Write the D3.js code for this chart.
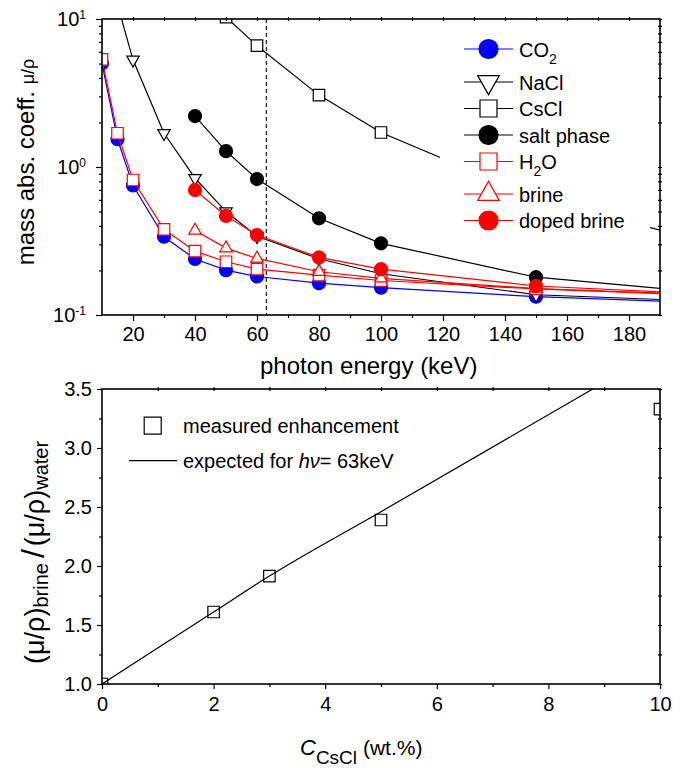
<!DOCTYPE html>
<html>
<head>
<meta charset="utf-8">
<script src="https://cdn.jsdelivr.net/npm/d3@7"></script>
<style>
  body { margin: 0; background: #fff; }
  svg { display: block; }
  text { font-family: "Liberation Sans", Arial, Helvetica, sans-serif; fill: #000; }
</style>
</head>
<body>
<svg id="chart" width="686" height="768"></svg>
<script>
// ---------------- data: mass absorption coefficients (cm^2/g) vs photon energy (keV) ----------------
const energyCO2   = [10, 15, 20, 30, 40, 50, 60, 80, 100, 150, 200];
const muCO2       = [5.0, 1.54, 0.75, 0.338, 0.239, 0.201, 0.182, 0.164, 0.153, 0.133, 0.122];
const energyNaCl  = [15, 20, 30, 40, 50, 60, 80, 100, 150, 200];
const muNaCl      = [12.5, 5.3, 1.69, 0.84, 0.50, 0.34, 0.24, 0.19, 0.137, 0.125];
const energyCsCl  = [40, 50, 60, 80, 100, 150, 200];
const muCsCl      = [20, 10.3, 6.6, 3.06, 1.71, 0.62, 0.33];
const energySalt  = [40, 50, 60, 80, 100, 150, 200];
const muSalt      = [2.21, 1.28, 0.83, 0.45, 0.305, 0.18, 0.145];
const energyH2O   = [10, 15, 20, 30, 40, 50, 60, 80, 100, 150, 200];
const muH2O       = [5.33, 1.69, 0.817, 0.379, 0.27, 0.229, 0.204, 0.186, 0.171, 0.150, 0.137];
const energyBrine = [40, 50, 60, 80, 100, 150, 200];
const muBrine     = [0.372, 0.283, 0.241, 0.196, 0.177, 0.151, 0.138];
const energyDoped = [40, 50, 60, 80, 100, 150, 200];
const muDoped     = [0.70, 0.467, 0.347, 0.245, 0.204, 0.157, 0.140];
const markerEnergy = 63;

const energyTicks = [20, 40, 60, 80, 100, 120, 140, 160, 180];
const energyMinor = [30, 50, 70, 90, 110, 130, 150, 170];
const muTicks = [0.1, 1, 10];

// ---------------- data: enhancement vs CsCl concentration ----------------
const concCsCl    = [0, 2, 3, 5, 10];
const enhancement = [1.0, 1.61, 1.915, 2.39, 3.33];
const expectedConc = [0, 2, 3, 5, 10];
const expectedEnh  = [1.0, 1.61, 1.915, 2.46, 3.83];
const concTicks = [0, 2, 4, 6, 8, 10];
const concMinor = [1, 3, 5, 7, 9];
const enhTicks  = [1.0, 1.5, 2.0, 2.5, 3.0, 3.5];
const enhMinor  = [1.25, 1.75, 2.25, 2.75, 3.25];

const BLUE = "#0000ff", RED = "#ff0000", BLACK = "#000000";

const series = [
  { label: "CO{2}",       x: energyCO2,   y: muCO2,   color: BLUE,  shape: "circle", filled: true },
  { label: "NaCl",        x: energyNaCl,  y: muNaCl,  color: BLACK, shape: "down",   filled: false },
  { label: "CsCl",        x: energyCsCl,  y: muCsCl,  color: BLACK, shape: "square", filled: false },
  { label: "salt phase",  x: energySalt,  y: muSalt,  color: BLACK, shape: "circle", filled: true },
  { label: "H{2}O",       x: energyH2O,   y: muH2O,   color: RED,   shape: "square", filled: false },
  { label: "brine",       x: energyBrine, y: muBrine, color: RED,   shape: "up",     filled: false },
  { label: "doped brine", x: energyDoped, y: muDoped, color: RED,   shape: "circle", filled: true }
];

// ---------------- helpers ----------------
function symbolPath(shape, size) {
  if (shape === "circle") return d3.symbol(d3.symbolCircle, Math.PI * (size / 2) * (size / 2))();
  if (shape === "square") return d3.symbol(d3.symbolSquare, size * size)();
  // triangles centred on their centroid
  const w = size * 1.08, h = size * 0.95;
  if (shape === "up")   return `M0,${-2 * h / 3}L${w / 2},${h / 3}L${-w / 2},${h / 3}Z`;
  return `M0,${2 * h / 3}L${w / 2},${-h / 3}L${-w / 2},${-h / 3}Z`;
}
// writes "A{b}C" as text with b as a subscript
function richLabel(sel, str, subSize, shift) {
  const parts = str.split(/(\{[^}]*\})/).filter(p => p.length);
  let lowered = false;
  parts.forEach(p => {
    if (p.startsWith("{")) {
      sel.append("tspan").attr("font-size", subSize).attr("dy", shift).text(p.slice(1, -1));
      lowered = true;
    } else {
      const t = sel.append("tspan").text(p);
      if (lowered) { t.attr("dy", -shift); lowered = false; }
    }
  });
}

const svg = d3.select("#chart");
const defs = svg.append("defs");

// ================= upper panel =================
const P1 = { l: 102, r: 660, t: 19, b: 315 };
const x1 = d3.scaleLinear().domain([10, 190]).range([P1.l, P1.r]);
const y1 = d3.scaleLog().domain([0.1, 10]).range([P1.b, P1.t]);

defs.append("clipPath").attr("id", "clip1").append("rect")
  .attr("x", P1.l).attr("y", P1.t).attr("width", P1.r - P1.l).attr("height", P1.b - P1.t);

const plot1 = svg.append("g").attr("clip-path", "url(#clip1)");

plot1.append("line")
  .attr("x1", x1(markerEnergy)).attr("x2", x1(markerEnergy))
  .attr("y1", y1(10)).attr("y2", y1(0.1))
  .attr("stroke", BLACK).attr("stroke-width", 1.1).attr("stroke-dasharray", "4,3");

const line1 = d3.line().x(d => x1(d[0])).y(d => y1(d[1]));
series.forEach(s => {
  const pts = s.x.map((e, i) => [e, s.y[i]]);
  const g = plot1.append("g");
  g.append("path").datum(pts).attr("d", line1)
    .attr("fill", "none").attr("stroke", s.color).attr("stroke-width", 1.2);
  g.selectAll("path.mk").data(pts).join("path").attr("class", "mk")
    .attr("transform", d => `translate(${x1(d[0])},${y1(d[1])})`)
    .attr("d", symbolPath(s.shape, s.shape === "circle" ? 13 : 11.5))
    .attr("fill", s.filled ? s.color : "#fff")
    .attr("stroke", s.color).attr("stroke-width", 1.2);
});

// legend (white box hides the curves behind it)
const leg1 = svg.append("g");
leg1.append("rect").attr("x", 440).attr("y", 27).attr("width", 210).attr("height", 210).attr("fill", "#fff");
const rowY = [49, 82, 108.5, 135, 161.5, 194, 220.5];
series.forEach((s, i) => {
  const g = leg1.append("g").attr("transform", `translate(0,${rowY[i]})`);
  g.append("line").attr("x1", 464).attr("x2", 513).attr("y1", 0).attr("y2", 0)
    .attr("stroke", s.color).attr("stroke-width", 1.2);
  g.append("path").attr("transform", "translate(488.5,0)")
    .attr("d", symbolPath(s.shape, s.shape === "circle" ? 19 : (s.shape === "square" ? 17 : 20)))
    .attr("fill", s.filled ? s.color : "#fff").attr("stroke", s.color).attr("stroke-width", 1.2);
  const t = g.append("text").attr("x", 519).attr("y", 7.5).attr("font-size", 20);
  richLabel(t, s.label, 14, 7);
});

// axes
function styleAxis(g) {
  g.select(".domain").remove();
  g.selectAll(".tick line").attr("stroke", BLACK).attr("stroke-width", 1.2);
}
const ax1b = svg.append("g").attr("transform", `translate(0,${P1.b})`)
  .call(d3.axisBottom(x1).tickValues(energyTicks).tickSize(6).tickPadding(6).tickFormat(d3.format("d")));
ax1b.selectAll("text").attr("font-size", 20).attr("font-family", null);
styleAxis(ax1b);
styleAxis(svg.append("g").attr("transform", `translate(0,${P1.b})`)
  .call(d3.axisBottom(x1).tickValues(energyMinor).tickSize(3).tickFormat("")));
styleAxis(svg.append("g").attr("transform", `translate(0,${P1.t + 2})`)
  .call(d3.axisTop(x1).tickValues(energyTicks.concat(energyMinor)).tickSize(4).tickFormat("")));

const muMinor = [];
[0.1, 1].forEach(dec => { for (let k = 2; k <= 9; k++) muMinor.push(dec * k); });
const ax1l = svg.append("g").attr("transform", `translate(${P1.l},0)`)
  .call(d3.axisLeft(y1).tickValues(muTicks).tickSize(6).tickPadding(10).tickFormat(""));
styleAxis(ax1l);
ax1l.selectAll(".tick text").attr("font-size", 20).attr("font-family", null).each(function (d) {
  const t = d3.select(this);
  t.append("tspan").text("10");
  t.append("tspan").attr("font-size", 12).attr("dy", -7).text(String(Math.round(Math.log10(d))));
});
styleAxis(svg.append("g").attr("transform", `translate(${P1.l},0)`)
  .call(d3.axisLeft(y1).tickValues(muMinor).tickSize(3).tickFormat("")));
styleAxis(svg.append("g").attr("transform", `translate(${P1.r - 2},0)`)
  .call(d3.axisRight(y1).tickValues(muTicks.concat(muMinor)).tickSize(4).tickFormat("")));

svg.append("rect").attr("x", P1.l).attr("y", P1.t).attr("width", P1.r - P1.l).attr("height", P1.b - P1.t)
  .attr("fill", "none").attr("stroke", BLACK).attr("stroke-width", 1.6);

svg.append("text").attr("x", 260).attr("y", 374).attr("font-size", 24).text("photon energy (keV)");
const yt1 = svg.append("text").attr("transform", "translate(34,162) rotate(-90)")
  .attr("text-anchor", "middle").attr("font-size", 24);
yt1.append("tspan").text("mass abs. coeff. ");
yt1.append("tspan").attr("font-size", 18).text("μ/ρ");

// ================= lower panel =================
const P2 = { l: 102, r: 660, t: 389, b: 684 };
const x2 = d3.scaleLinear().domain([0, 10]).range([P2.l, P2.r]);
const y2 = d3.scaleLinear().domain([1.0, 3.5]).range([P2.b, P2.t]);

defs.append("clipPath").attr("id", "clip2").append("rect")
  .attr("x", P2.l).attr("y", P2.t).attr("width", P2.r - P2.l).attr("height", P2.b - P2.t);
const plot2 = svg.append("g").attr("clip-path", "url(#clip2)");

plot2.append("path")
  .datum(expectedConc.map((c, i) => [c, expectedEnh[i]]))
  .attr("d", d3.line().curve(d3.curveMonotoneX).x(d => x2(d[0])).y(d => y2(d[1])))
  .attr("fill", "none").attr("stroke", BLACK).attr("stroke-width", 1.2);

plot2.selectAll("path.mk")
  .data(concCsCl.map((c, i) => [c, enhancement[i]]))
  .join("path").attr("class", "mk")
  .attr("transform", d => `translate(${x2(d[0])},${y2(d[1])})`)
  .attr("d", symbolPath("square", 11.5))
  .attr("fill", "none").attr("stroke", BLACK).attr("stroke-width", 1.2);

// legend
svg.append("path").attr("transform", "translate(152.7,425.7)").attr("d", symbolPath("square", 17))
  .attr("fill", "none").attr("stroke", BLACK).attr("stroke-width", 1.2);
svg.append("text").attr("x", 183).attr("y", 433).attr("font-size", 20).text("measured enhancement");
svg.append("line").attr("x1", 129).attr("x2", 177).attr("y1", 460.7).attr("y2", 460.7)
  .attr("stroke", BLACK).attr("stroke-width", 1.2);
const lt2 = svg.append("text").attr("x", 183).attr("y", 467.5).attr("font-size", 20);
lt2.append("tspan").text("expected for ");
lt2.append("tspan").attr("font-style", "italic").text("hν");
lt2.append("tspan").text("= 63keV");

// axes
const ax2b = svg.append("g").attr("transform", `translate(0,${P2.b})`)
  .call(d3.axisBottom(x2).tickValues(concTicks).tickSize(5).tickPadding(8).tickFormat(d3.format("d")));
ax2b.selectAll("text").attr("font-size", 20).attr("font-family", null);
styleAxis(ax2b);
styleAxis(svg.append("g").attr("transform", `translate(0,${P2.b})`)
  .call(d3.axisBottom(x2).tickValues(concMinor).tickSize(3).tickFormat("")));
styleAxis(svg.append("g").attr("transform", `translate(0,${P2.t + 2})`)
  .call(d3.axisTop(x2).tickValues(d3.range(1, 10)).tickSize(4).tickFormat("")));

const ax2l = svg.append("g").attr("transform", `translate(${P2.l},0)`)
  .call(d3.axisLeft(y2).tickValues(enhTicks).tickSize(5).tickPadding(5).tickFormat(d3.format(".1f")));
ax2l.selectAll("text").attr("font-size", 20).attr("font-family", null);
styleAxis(ax2l);
styleAxis(svg.append("g").attr("transform", `translate(${P2.l},0)`)
  .call(d3.axisLeft(y2).tickValues(enhMinor).tickSize(3).tickFormat("")));
styleAxis(svg.append("g").attr("transform", `translate(${P2.r - 2},0)`)
  .call(d3.axisRight(y2).tickValues(enhTicks.concat(enhMinor)).tickSize(4).tickFormat("")));

svg.append("rect").attr("x", P2.l).attr("y", P2.t).attr("width", P2.r - P2.l).attr("height", P2.b - P2.t)
  .attr("fill", "none").attr("stroke", BLACK).attr("stroke-width", 1.6);

// axis titles
const xt2 = svg.append("text").attr("x", 300).attr("y", 755).attr("font-size", 21);
xt2.append("tspan").attr("font-style", "italic").attr("font-size", 22).text("C");
xt2.append("tspan").attr("font-size", 19).attr("dy", 9).text("CsCl");
xt2.append("tspan").attr("dy", -9).text(" (wt.%)");

const yt2 = svg.append("text").attr("transform", "translate(44,664) rotate(-90)").attr("font-size", 27);
yt2.append("tspan").text("(μ/ρ)");
yt2.append("tspan").attr("font-size", 20).attr("dy", 4).text("brine");
yt2.append("tspan").attr("font-size", 32).attr("dy", -4).attr("dx", 5).text("/");
yt2.append("tspan").attr("dx", 3).text("(μ/ρ)");
yt2.append("tspan").attr("font-size", 20).attr("dy", 4).text("water");
</script>
</body>
</html>
